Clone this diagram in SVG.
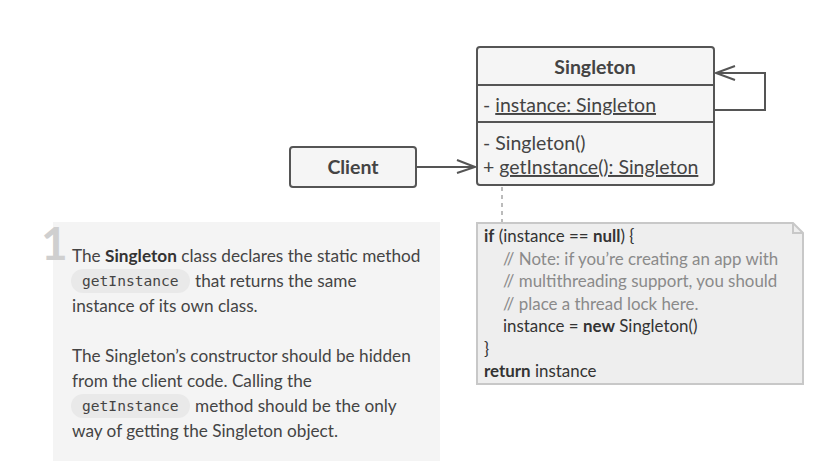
<svg xmlns="http://www.w3.org/2000/svg" width="818" height="461" viewBox="0 0 818 461">
<defs>
<style>
.box{fill:#f5f5f5;stroke:#555;stroke-width:2}
.t{font-family:Lato,"Liberation Sans",sans-serif;fill:#444}
.uml{font-size:19.5px}
.b{font-weight:bold}
.desc{font-size:17.2px;fill:#444}
.code{font-size:16.9px;fill:#333}
.cm{fill:#8a8a8a}
.mono{font-family:"DejaVu Sans Mono","Liberation Mono",monospace;font-size:14.6px;fill:#444}
.pill{fill:#e9e9e9}
.conn{fill:none;stroke:#555;stroke-width:2}
</style>
</defs>
<rect width="818" height="461" fill="#fff"/>
<g id="description">
<rect x="53" y="222" width="387" height="239" fill="#f4f4f4"/>
<text x="41" y="260" font-family="Lato,'Liberation Sans',sans-serif" font-weight="bold" font-size="46" fill="#cfcfcf">1</text>
<rect class="pill" x="71" y="269" width="119" height="24" rx="12"/>
<rect class="pill" x="71" y="394" width="119" height="24" rx="12"/>
<text class="t desc" x="72" y="262">The <tspan class="b" fill="#333">Singleton</tspan> class declares the static method</text>
<text class="mono" x="82" y="286">getInstance</text>
<text class="t desc" x="195" y="287">that returns the same</text>
<text class="t desc" x="72" y="312">instance of its own class.</text>
<text class="t desc" x="72" y="362">The Singleton’s constructor should be hidden</text>
<text class="t desc" x="72" y="387">from the client code. Calling the</text>
<text class="mono" x="82" y="411">getInstance</text>
<text class="t desc" x="195" y="412">method should be the only</text>
<text class="t desc" x="72" y="437">way of getting the Singleton object.</text>
</g>
<g id="connectors">
<path class="conn" d="M416 167H475M457 160L475 167L457 173"/>
<path class="conn" d="M714 110H765V73H716M735 66L716 73L735 80"/>
<path d="M502 187V222" stroke="#bbb" stroke-width="2" stroke-dasharray="4 4" fill="none"/>
</g>
<g id="client">
<rect class="box" x="290" y="147" width="126" height="40" rx="3"/>
<text class="t uml b" x="353" y="174" text-anchor="middle" fill="#444">Client</text>
</g>
<g id="singleton">
<rect class="box" x="477" y="47" width="237" height="138" rx="3"/>
<path d="M477 85H714M477 122H714" stroke="#555" stroke-width="2"/>
<text class="t uml b" x="595" y="74" text-anchor="middle">Singleton</text>
<text class="t uml" x="483" y="112">- <tspan text-decoration="underline">instance: Singleton</tspan></text>
<text class="t uml" x="483" y="150">- Singleton()</text>
<text class="t uml" x="483" y="174">+ <tspan text-decoration="underline">getInstance(): Singleton</tspan></text>
</g>
<g id="note">
<path d="M477 223H793L803 233V384H477Z" fill="#eeeeee" stroke="#c8c8c8" stroke-width="2"/>
<path d="M793 223V233H803" fill="none" stroke="#c8c8c8" stroke-width="2"/>
<text class="t code" x="484" y="242"><tspan class="b">if</tspan> (instance == <tspan class="b">null</tspan>) {</text>
<text class="t code cm" x="503" y="265">// Note: if you’re creating an app with</text>
<text class="t code cm" x="503" y="287">// multithreading support, you should</text>
<text class="t code cm" x="503" y="310">// place a thread lock here.</text>
<text class="t code" x="503" y="332">instance = <tspan class="b">new</tspan> Singleton()</text>
<text class="t code" x="484" y="355">}</text>
<text class="t code" x="484" y="377"><tspan class="b">return</tspan> instance</text>
</g>
</svg>
